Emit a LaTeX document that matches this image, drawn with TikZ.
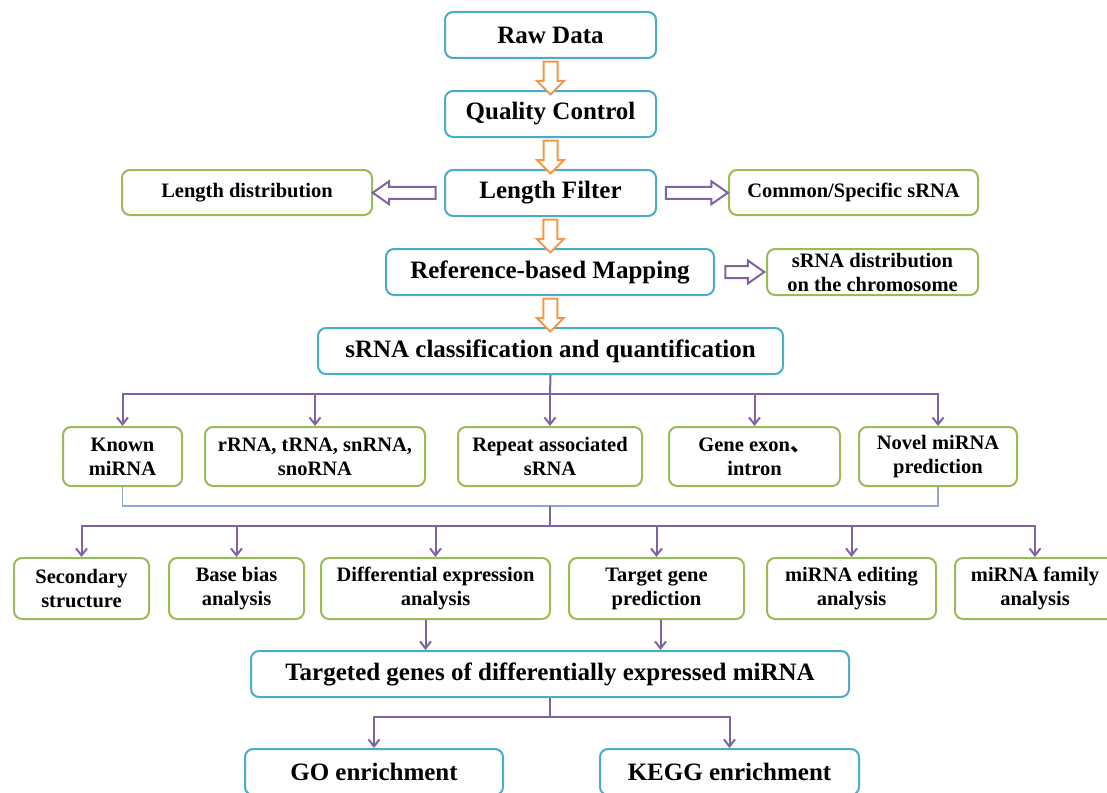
\documentclass[tikz,border=0pt]{standalone}
\usepackage{fontspec}
\setmainfont{Liberation Serif}
\newfontfamily\cjk{Noto Sans CJK SC}
\usetikzlibrary{arrows.meta,shapes.arrows,calc}
\definecolor{boxblue}{HTML}{4BACC6}
\definecolor{boxgreen}{HTML}{9BBB59}
\definecolor{linepurple}{HTML}{8064A2}
\definecolor{arroworange}{HTML}{F79646}
\definecolor{thinblue}{HTML}{8DA9CF}

\begin{document}
\begin{tikzpicture}[x=1pt,y=-1pt,
  mainbox/.style={draw=boxblue, line width=2pt, rounded corners=8pt, fill=white,
    minimum height=46pt, inner sep=0pt, font=\fontsize{25}{30}\selectfont\bfseries},
  subbox/.style={draw=boxgreen, line width=2pt, rounded corners=8pt, fill=white,
    inner sep=0pt, align=center, font=\fontsize{20.5}{24}\selectfont\bfseries},
  oarrow/.style={single arrow, draw=arroworange, fill=white, line width=2pt,
    inner sep=6pt, minimum width=25pt, single arrow head extend=6.5pt,
    shape border rotate=270, minimum height=33pt},
  hollowp/.style={single arrow, draw=linepurple, fill=white, line width=2pt,
    inner sep=5pt, minimum width=21pt, single arrow head extend=5.5pt,
    single arrow tip angle=70},
  pline/.style={draw=linepurple, line width=2pt},
  parrow/.style={-{Straight Barb[length=7pt,width=11pt]}},
  bline/.style={draw=thinblue, line width=1.2pt}]
  \useasboundingbox (0,0) rectangle (1107,792);
  \clip (0,0) rectangle (1107,792);

  \node[mainbox, minimum width=211pt] (raw) at (550.5,35) {Raw Data};
  \node[mainbox, minimum width=211pt] (qc) at (550.5,114) {Quality Control};
  \node[mainbox, minimum width=211pt] (lenfilter) at (550.5,193) {Length Filter};
  \node[subbox, minimum width=250pt, minimum height=45pt] (lendist) at (247,192.5) {Length distribution};
  \node[subbox, minimum width=249pt, minimum height=45pt] (common) at (853.5,192.5) {Common/Specific sRNA};
  \node[mainbox, minimum width=328pt] (mapping) at (550,272) {Reference-based Mapping};
  \node[subbox, minimum width=211pt, minimum height=46pt] (chromdist) at (872.5,272) {sRNA distribution\\on the chromosome};
  \node[mainbox, minimum width=465pt] (classif) at (550.5,351) {sRNA classification and quantification};

  \node[subbox, minimum width=119pt, minimum height=59pt] (known) at (122.5,456.5) {Known\\miRNA};
  \node[subbox, minimum width=220pt, minimum height=59pt] (rrna) at (315,456.5) {rRNA, tRNA, snRNA,\\snoRNA};
  \node[subbox, minimum width=184pt, minimum height=59pt] (repeat) at (550,456.5) {Repeat associated\\sRNA};
  \node[subbox, minimum width=171pt, minimum height=59pt] (geneexon) at (754.5,456.5) {Gene exon{\cjk 、}\\intron};
  \node[subbox, minimum width=158pt, minimum height=59pt] (novel) at (938,456.5) {Novel miRNA\\prediction};

  \node[subbox, minimum width=135pt, minimum height=61pt] (secondary) at (81.5,588.5) {Secondary\\structure};
  \node[subbox, minimum width=135pt, minimum height=61pt] (basebias) at (236.5,588.5) {Base bias\\analysis};
  \node[subbox, minimum width=229pt, minimum height=61pt] (diffexp) at (435.5,588.5) {Differential expression\\analysis};
  \node[subbox, minimum width=175pt, minimum height=61pt] (targetpred) at (656.5,588.5) {Target gene\\prediction};
  \node[subbox, minimum width=169pt, minimum height=61pt] (editing) at (851.5,588.5) {miRNA editing\\analysis};
  \node[subbox, minimum width=160pt, minimum height=61pt] (family) at (1035,588.5) {miRNA family\\analysis};

  \node[mainbox, minimum width=598pt] (targeted) at (550,674) {Targeted genes of differentially expressed miRNA};
  \node[mainbox, minimum width=258pt] (goenrich) at (374,772) {GO enrichment};
  \node[mainbox, minimum width=259pt] (keggenrich) at (729.5,772) {KEGG enrichment};

  \node[oarrow] (oa1) at ($(raw.south)!.5!(qc.north)$) {};
  \node[oarrow] (oa2) at ($(qc.south)!.5!(lenfilter.north)$) {};
  \node[oarrow] (oa3) at ($(lenfilter.south)!.5!(mapping.north)$) {};
  \node[oarrow] (oa4) at ($(mapping.south)!.5!(classif.north)$) {};
  \node[hollowp, shape border rotate=180, minimum height=63pt] (pa1) at ($(lenfilter.west)!.5!(lendist.east)$) {};
  \node[hollowp, minimum height=62pt] (pa2) at ($(lenfilter.east)!.5!(common.west)$) {};
  \node[hollowp, minimum height=39pt] (pa3) at ($(mapping.east)!.5!(chromdist.west)$) {};

  \coordinate (bus1) at (550,394);
  \draw[pline] (classif.south) -- (bus1);
  \foreach \n in {known,rrna,repeat,geneexon,novel}
    \draw[pline,parrow] (bus1) -| (\n.north);

  \coordinate (bus2) at (550,506);
  \coordinate (bus3) at (550,526);
  \draw[bline] (known.south) |- (bus2) -| (novel.south);
  \draw[pline] (bus2) -- (bus3);
  \foreach \n in {secondary,basebias,diffexp,targetpred,editing,family}
    \draw[pline,parrow] (bus3) -| (\n.north);

  \draw[pline,parrow] ([xshift=-10pt]diffexp.south) -- ([xshift=-10pt]diffexp.south |- targeted.north);
  \draw[pline,parrow] ([xshift=4pt]targetpred.south) -- ([xshift=4pt]targetpred.south |- targeted.north);

  \coordinate (bus4) at (550,717);
  \draw[pline] (targeted.south) -- (bus4);
  \draw[pline,parrow] (bus4) -| (goenrich.north);
  \draw[pline,parrow] (bus4) -| (keggenrich.north);
\end{tikzpicture}
\end{document}
